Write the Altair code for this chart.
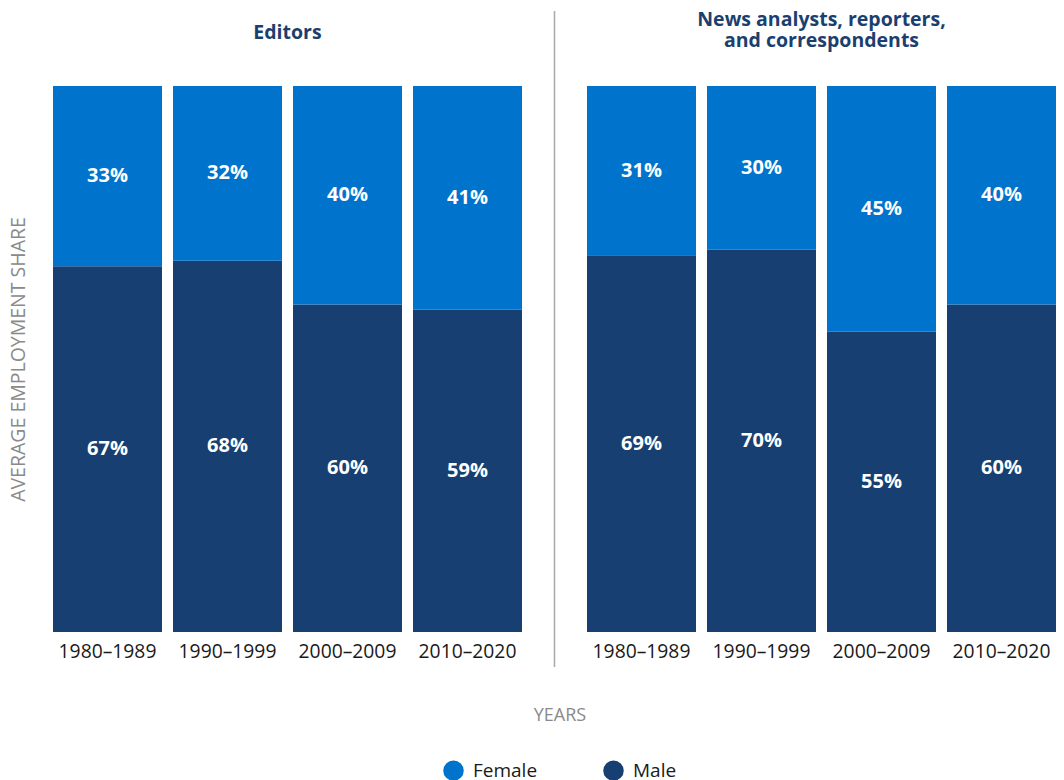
import altair as alt
import pandas as pd

periods = ["1980–1989", "1990–1999", "2000–2009", "2010–2020"]
genders = ["Female", "Male"]
editors_female = [33, 32, 40, 41]
editors_male = [67, 68, 60, 59]
news_female = [31, 30, 45, 40]
news_male = [69, 70, 55, 60]
panel_titles = [["Editors"], ["News analysts, reporters,", "and correspondents"]]
colors = ["#0073CC", "#173F71"]

FONT = "Open Sans"
W, H = 469, 546


def frame(female, male):
    rows = []
    for p, f, m in zip(periods, female, male):
        rows.append({"period": p, "gender": "Male", "value": m, "order": 0})
        rows.append({"period": p, "gender": "Female", "value": f, "order": 1})
    return pd.DataFrame(rows)


def panel(df, title, left, title_offset):
    base = alt.Chart(df).transform_stack(
        stack="value", groupby=["period"], as_=["y0", "y1"],
        sort=[alt.SortField("order", order="ascending")],
    ).transform_calculate(
        mid="(datum.y0 + datum.y1) / 2", label="datum.value + '%'"
    )
    x = alt.X(
        "period:N", sort=periods,
        scale=alt.Scale(paddingInner=11 / 120, paddingOuter=0),
        axis=alt.Axis(title=None, labelAngle=0, labelFontSize=19.3, labelColor="#1a1a1a",
                      labelFont=FONT, ticks=False, domain=False, labelPadding=10),
    )
    yscale = alt.Scale(domain=[0, 100], nice=False)
    if left:
        yaxis = alt.Axis(title="AVERAGE EMPLOYMENT SHARE", labels=False, ticks=False,
                         domain=False, grid=False, titleFont=FONT, titleFontSize=19.5,
                         titleFontWeight="normal", titleColor="#8a8a8a", titlePadding=25)
    else:
        yaxis = None
    legend = alt.Legend(
        title="YEARS", orient="none", legendX=390, legendY=621, direction="horizontal",
        titleAnchor="middle", titleOrient="top", titleFont=FONT, titleFontSize=18,
        titleFontWeight="normal", titleColor="#8a8a8a", titlePadding=35,
        labelFont=FONT, labelFontSize=19, labelColor="#1a1a1a", symbolType="circle",
        symbolSize=420, symbolStrokeWidth=0, labelOffset=9, columnPadding=65,
    )
    bars = base.mark_bar().encode(
        x=x,
        y=alt.Y("y0:Q", scale=yscale, axis=yaxis),
        y2="y1:Q",
        color=alt.Color("gender:N", scale=alt.Scale(domain=genders, range=colors), legend=legend),
    )
    text = base.mark_text(font=FONT, fontSize=20, fontWeight="bold", color="white").encode(
        x=alt.X("period:N", sort=periods),
        y=alt.Y("mid:Q", scale=yscale),
        text="label:N",
    )
    return alt.layer(bars, text).properties(
        width=W, height=H,
        title=alt.TitleParams(text=title, font=FONT, fontSize=19.5, fontWeight="bold",
                              color="#1B3F6E", anchor="middle", offset=title_offset,
                              lineHeight=20.5),
    )


left = panel(frame(editors_female, editors_male), panel_titles[0], True, 43)
right = panel(frame(news_female, news_male), panel_titles[1], False, 35)

divider = alt.Chart(pd.DataFrame({"d": [0]})).mark_rule(color="#a8a8a8", strokeWidth=1.5).encode(
    x=alt.value(1), y=alt.value(-75), y2=alt.value(581)
).properties(width=2, height=H)

chart = alt.hconcat(left, divider, right, spacing=31.5).resolve_scale(color="shared").configure_view(
    stroke=None
).properties(padding={"left": 0, "top": 2, "right": 0, "bottom": 0})

chart.save("out.html", embed_options={"renderer": "svg", "actions": False})
